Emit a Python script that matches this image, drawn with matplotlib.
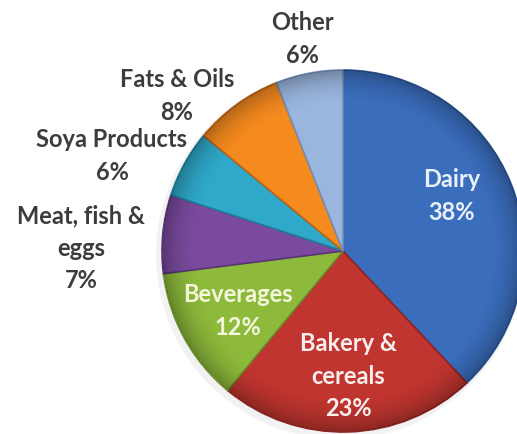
import numpy as np
import matplotlib
matplotlib.use("Agg")
import matplotlib.pyplot as plt
from matplotlib.patches import Circle

# food categories, share of total (%)
categories = ["Dairy", "Bakery & cereals", "Beverages", "Meat, fish & eggs",
              "Soya Products", "Fats & Oils", "Other"]
shares = [38, 23, 12, 7, 6, 8, 6]
label_texts = ["Dairy\n38%", "Bakery &\ncereals\n23%", "Beverages\n12%",
               "Meat, fish &\neggs\n7%", "Soya Products\n6%", "Fats & Oils\n8%",
               "Other\n6%"]

colors = ["#3a6dbc", "#c0352f", "#8dba3b", "#7a4a9e", "#2fa8c9", "#f58a1f", "#9ab6de"]
edge_colors = ["#2c5596", "#8e2422", "#6a8d2a", "#5a3578", "#207e98", "#b8651a", "#7390b8"]

W, H = 517, 434
cx, cy, R = 343, H - 251, 181

fig = plt.figure(figsize=(W / 100, H / 100), dpi=100)
ax = fig.add_axes([0, 0, 1, 1])

# faint drop shadow
ax.add_patch(Circle((cx - 3, cy - 4), R + 3, color="#000000", alpha=0.05, lw=0))

wedges, _ = ax.pie(shares, colors=colors, startangle=90, counterclock=False,
                   center=(cx, cy), radius=R, frame=True,
                   wedgeprops=dict(linewidth=1.2))
for w, ec in zip(wedges, edge_colors):
    w.set_edgecolor(ec)

ax.set_xlim(0, W)
ax.set_ylim(0, H)
ax.set_aspect("equal")
ax.axis("off")

# radial shading for a rounded look
yy, xx = np.mgrid[0:H, 0:W]
rr = np.hypot(xx - cx, (H - 1 - yy) - cy) / R
shade = np.zeros((H, W, 4))
shade[..., 3] = np.clip((rr - 0.80) / 0.2, 0, 1) ** 2 * 0.28
shade[rr > 1.0, 3] = 0
img = ax.imshow(shade, extent=(0, W, 0, H), origin="upper", zorder=3)
img.set_clip_path(Circle((cx, cy), R, transform=ax.transData))

# label positions (pixels from top-left) and colors
label_pos = [(452, 196), (348, 376), (238, 311), (81, 248), (112, 156), (177, 96), (302, 39)]
label_colors = ["#e8f0fa", "#fbeeee", "#f3f8dc", "#3c3c3c", "#3c3c3c", "#3c3c3c", "#3c3c3c"]

for txt, (x, y), c in zip(label_texts, label_pos, label_colors):
    ax.text(x, H - y, txt, ha="center", va="center", fontsize=17,
            fontfamily="Lato", fontweight="bold", color=c,
            linespacing=1.5, zorder=5)

fig.savefig("out.png", dpi=100)
